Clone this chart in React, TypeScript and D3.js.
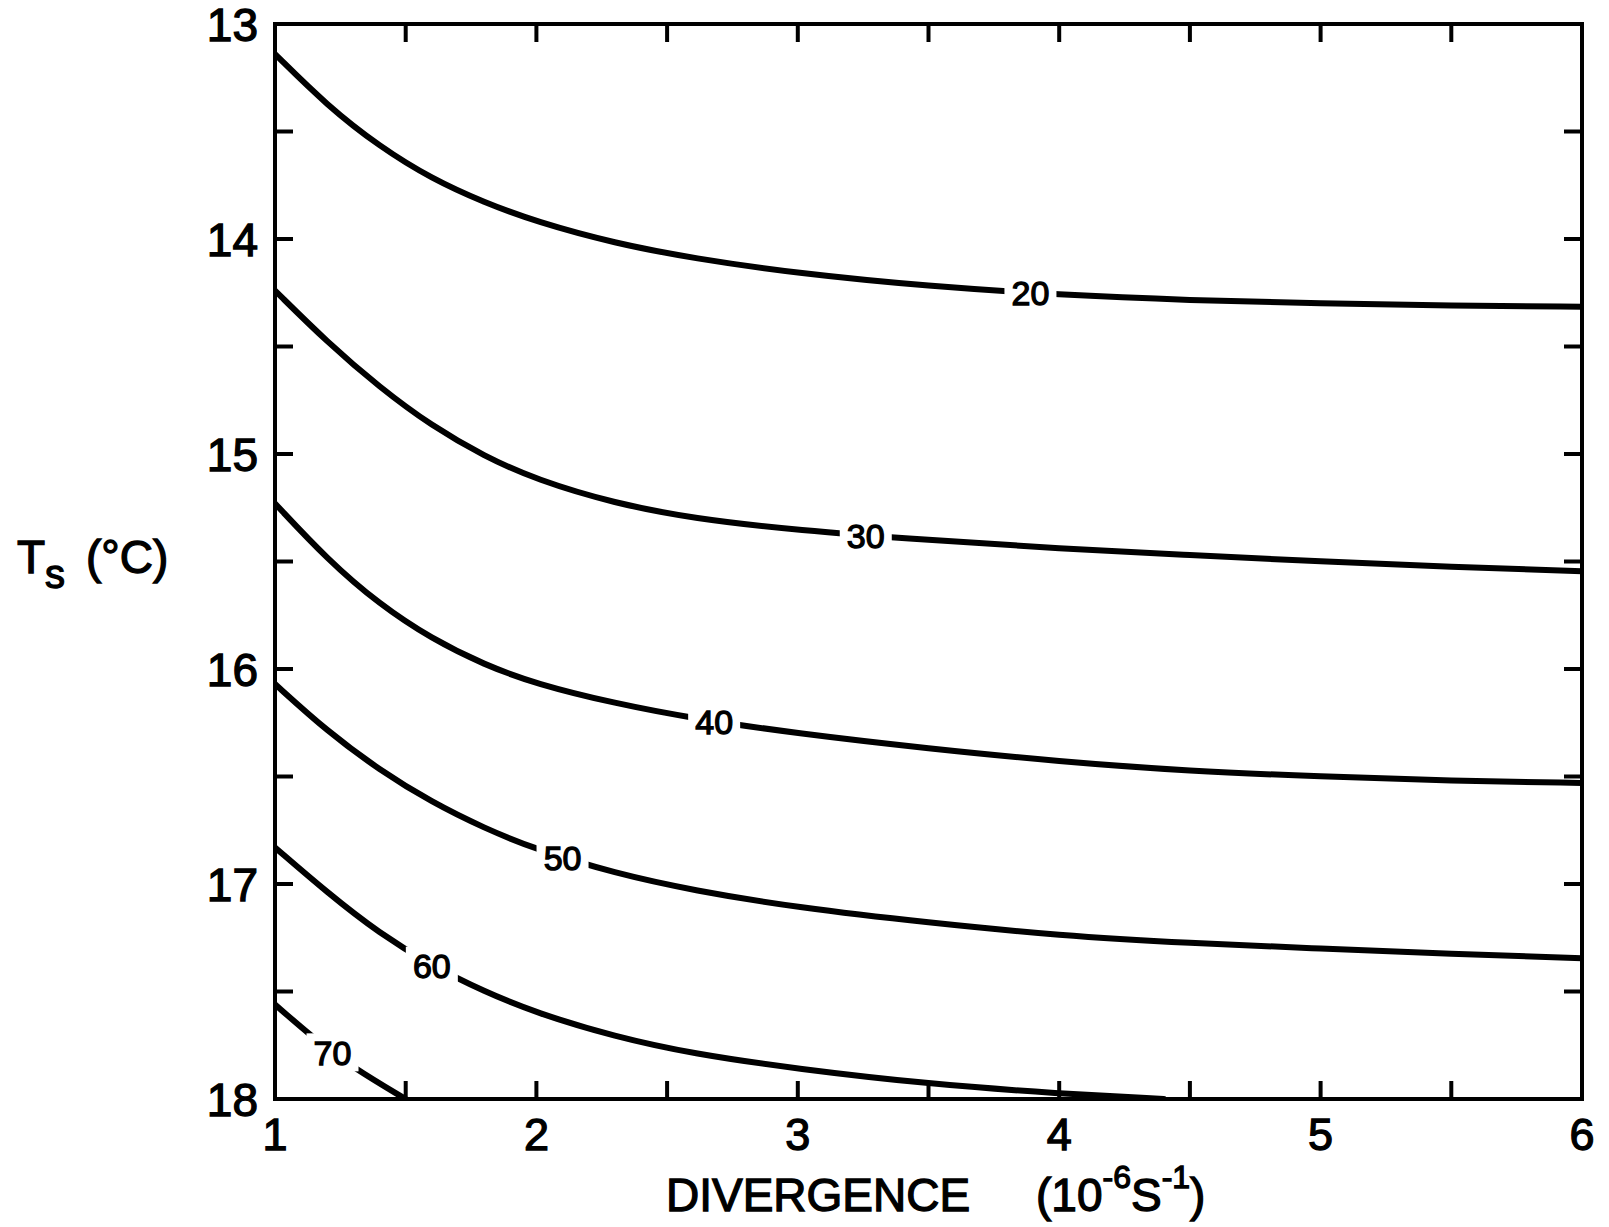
import React from 'react';
import * as d3 from 'd3';

const W = 1609;
const H = 1227;

// Axis domains and labelled ticks
const divergenceDomain: [number, number] = [1, 6];
const tempDomain: [number, number] = [13, 18];
const xTickLabels = [1, 2, 3, 4, 5, 6];
const yTickLabels = [13, 14, 15, 16, 17, 18];
const minorStep = 0.5;

// Isoline levels and their sampled (divergence, Ts) points
const contourLevels = [20, 30, 40, 50, 60, 70];

const line20: [number, number][] = [
  [1.0, 13.14], [1.2, 13.38], [1.4, 13.57], [1.6, 13.72], [1.8, 13.83], [2.0, 13.92],
  [2.3, 14.02], [2.6, 14.09], [3.0, 14.16], [3.5, 14.22], [4.0, 14.26], [4.5, 14.285],
  [5.0, 14.3], [5.5, 14.31], [6.0, 14.315],
];
const line30: [number, number][] = [
  [1.0, 14.24], [1.2, 14.48], [1.4, 14.69], [1.6, 14.87], [1.8, 15.01], [2.0, 15.12],
  [2.3, 15.23], [2.6, 15.3], [3.0, 15.355], [3.5, 15.4], [4.0, 15.44], [4.5, 15.47],
  [5.0, 15.5], [5.5, 15.525], [6.0, 15.545],
];
const line40: [number, number][] = [
  [1.0, 15.23], [1.2, 15.49], [1.4, 15.7], [1.6, 15.86], [1.8, 15.98], [2.0, 16.07],
  [2.3, 16.16], [2.6, 16.23], [3.0, 16.3], [3.5, 16.37], [4.0, 16.43], [4.5, 16.475],
  [5.0, 16.5], [5.5, 16.52], [6.0, 16.53],
];
const line50: [number, number][] = [
  [1.0, 16.07], [1.2, 16.29], [1.4, 16.47], [1.6, 16.62], [1.8, 16.74], [2.0, 16.84],
  [2.3, 16.95], [2.6, 17.03], [3.0, 17.11], [3.5, 17.18], [4.0, 17.24], [4.5, 17.275],
  [5.0, 17.3], [5.5, 17.325], [6.0, 17.345],
];
const line60: [number, number][] = [
  [1.0, 16.83], [1.2, 17.04], [1.4, 17.23], [1.6, 17.38], [1.8, 17.5], [2.0, 17.6],
  [2.3, 17.71], [2.6, 17.79], [3.0, 17.86], [3.5, 17.93], [4.0, 17.975], [4.4, 18.0],
];
const line70: [number, number][] = [
  [1.0, 17.56], [1.15, 17.72], [1.3, 17.855], [1.5, 18.0],
];
const contourLines = [line20, line30, line40, line50, line60, line70];

// Divergence at which each isoline carries its inline label
const labelDivergence = [3.89, 3.26, 2.68, 2.1, 1.6, 1.22];

const FONT = '"Liberation Sans", Arial, sans-serif';

const x = d3.scaleLinear().domain(divergenceDomain).range([275, 1582]);
const y = d3.scaleLinear().domain(tempDomain).range([24, 1099]);

const pathGen = d3
  .line<[number, number]>()
  .x((d) => x(d[0]))
  .y((d) => y(d[1]))
  .curve(d3.curveBasis);

function valueAt(pts: [number, number][], v: number): number {
  const i = Math.max(1, Math.min(pts.length - 1, d3.bisector((d: [number, number]) => d[0]).left(pts, v)));
  const a = pts[i - 1];
  const b = pts[i];
  const t = (v - a[0]) / (b[0] - a[0]);
  return a[1] + t * (b[1] - a[1]);
}

export default function App() {
  const [x0, x1] = x.range();
  const [y0, y1] = y.range();
  const tickLen = 18;

  const xMinor = d3.range(divergenceDomain[0] + minorStep, divergenceDomain[1] - 1e-9, minorStep);
  const yMinor = d3.range(tempDomain[0] + minorStep, tempDomain[1] - 1e-9, minorStep);

  const textStyle = { fontFamily: FONT, fill: '#000', stroke: '#000', strokeWidth: 1.3 } as const;

  return (
    <svg
      width={W}
      height={H}
      viewBox={`0 0 ${W} ${H}`}
      style={{ position: 'absolute', left: 0, top: 0, background: '#fff' }}
    >
      <defs>
        <clipPath id="plot-area">
          <rect x={x0} y={y0} width={x1 - x0} height={y1 - y0} />
        </clipPath>
      </defs>
      <rect width={W} height={H} fill="#fff" />

      {/* isolines */}
      <g clipPath="url(#plot-area)">
        {contourLines.map((pts, i) => (
          <path
            key={contourLevels[i]}
            d={pathGen(pts) || ''}
            fill="none"
            stroke="#000"
            strokeWidth={6}
            strokeLinecap="round"
          />
        ))}
      </g>

      {/* inline isoline labels with a gap in the line */}
      {contourLevels.map((lev, i) => {
        const v = labelDivergence[i];
        const cx = x(v);
        const cy = y(valueAt(contourLines[i], v));
        return (
          <g key={`lab-${lev}`}>
            <rect x={cx - 26} y={cy - 19} width={52} height={38} fill="#fff" />
            <text
              x={cx}
              y={cy}
              dy="0.36em"
              textAnchor="middle"
              fontSize={34}
              style={textStyle}
            >
              {lev}
            </text>
          </g>
        );
      })}

      {/* frame */}
      <rect x={x0} y={y0} width={x1 - x0} height={y1 - y0} fill="none" stroke="#000" strokeWidth={4} />

      {/* inward ticks on all four sides */}
      <g stroke="#000" strokeWidth={4}>
        {xMinor.map((v) => (
          <g key={`xt-${v}`}>
            <line x1={x(v)} x2={x(v)} y1={y1} y2={y1 - tickLen} />
            <line x1={x(v)} x2={x(v)} y1={y0} y2={y0 + tickLen} />
          </g>
        ))}
        {yMinor.map((t) => (
          <g key={`yt-${t}`}>
            <line x1={x0} x2={x0 + tickLen} y1={y(t)} y2={y(t)} />
            <line x1={x1} x2={x1 - tickLen} y1={y(t)} y2={y(t)} />
          </g>
        ))}
      </g>

      {/* tick labels */}
      {xTickLabels.map((v) => (
        <text key={`xl-${v}`} x={x(v)} y={1150} textAnchor="middle" fontSize={45} style={textStyle}>
          {v}
        </text>
      ))}
      {yTickLabels.map((t) => (
        <text key={`yl-${t}`} x={258} y={y(t)} dy="0.36em" textAnchor="end" fontSize={46} style={textStyle}>
          {t}
        </text>
      ))}

      {/* axis titles */}
      <text x={666} y={1211} fontSize={46} style={textStyle}>
        DIVERGENCE
      </text>
      <text x={1036} y={1211} fontSize={46} style={textStyle}>
        (10
        <tspan fontSize={32} dy={-23}>-6</tspan>
        <tspan dy={23}>S</tspan>
        <tspan fontSize={32} dy={-23}>-1</tspan>
        <tspan dy={23}>)</tspan>
      </text>

      <text x={17} y={573} fontSize={46} style={textStyle}>
        T
        <tspan fontSize={40} dy={15}>s</tspan>
        <tspan x={86} dy={-15}>(°C)</tspan>
      </text>
    </svg>
  );
}
